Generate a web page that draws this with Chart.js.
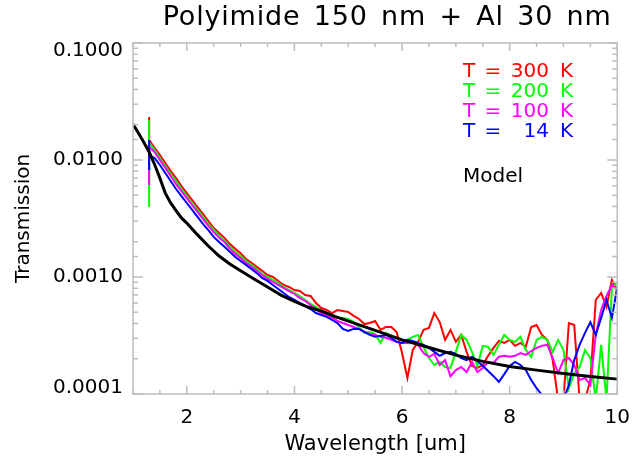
<!DOCTYPE html>
<html>
<head>
<meta charset="utf-8">
<script src="https://cdn.jsdelivr.net/npm/chart.js@4.4.1/dist/chart.umd.min.js"></script>
<style>
  html, body { margin: 0; padding: 0; background: #fff; }
  #wrap { width: 642px; height: 461px; }
</style>
</head>
<body>
<div id="wrap"><canvas id="chart" width="642" height="461"></canvas></div>
<script>
// wavelength grid of the measured spectra [um]; the first three points sit on 1.3
const wavelength = [1.3, 1.3, 1.3, 1.4, 1.5, 1.6, 1.7, 1.8, 1.9, 2.0,
  2.1, 2.2, 2.3, 2.4, 2.5, 2.6, 2.7, 2.8, 2.9, 3.0,
  3.1, 3.2, 3.3, 3.4, 3.5, 3.6, 3.7, 3.8, 3.9, 4.0,
  4.1, 4.2, 4.3, 4.4, 4.5, 4.6, 4.7, 4.8, 4.9, 5.0,
  5.1, 5.2, 5.3, 5.4, 5.5, 5.6, 5.7, 5.8, 5.9, 6.0,
  6.1, 6.2, 6.3, 6.4, 6.5, 6.6, 6.7, 6.8, 6.9, 7.0,
  7.1, 7.2, 7.3, 7.4, 7.5, 7.6, 7.7, 7.8, 7.9, 8.0,
  8.1, 8.2, 8.3, 8.4, 8.5, 8.6, 8.7, 8.8, 8.9, 9.0,
  9.1, 9.2, 9.3, 9.4, 9.5, 9.6, 9.7, 9.8, 9.9, 10.0];

const t300 = [0.0233, 0.0127, 0.0148, 0.0127, 0.0110, 0.00943, 0.00805, 0.00701, 0.00599, 0.00522,
  0.00455, 0.00396, 0.00346, 0.00301, 0.00262, 0.00238, 0.00216, 0.00191, 0.00174, 0.00160,
  0.00142, 0.00132, 0.00122, 0.00113, 0.00104, 0.00100, 0.000925, 0.000855, 0.000822, 0.000774,
  0.000759, 0.000702, 0.000688, 0.000600, 0.000543, 0.000522, 0.000492, 0.000522, 0.000512, 0.000502,
  0.000465, 0.000438, 0.000396, 0.000404, 0.000421, 0.000353, 0.000374, 0.000374, 0.000339, 0.000224,
  0.000137, 0.000238, 0.000279, 0.000353, 0.000367, 0.000492, 0.000412, 0.000290, 0.000353, 0.000279,
  0.000320, 0.000229, 0.000174, 0.000167, 0.000177, 0.000212, 0.000248, 0.000284, 0.000273, 0.000290,
  0.000258, 0.000273, 0.000253, 0.000374, 0.000389, 0.000320, 0.000290, 0.000195, 0.000089, 0.000089,
  0.000404, 0.000389, 0.000089, 0.000089, 0.000132, 0.000636, 0.000730, 0.000554, 0.000943, 0.000774];

const t200 = [0.0220, 0.00396, 0.0140, 0.0122, 0.0104, 0.00888, 0.00759, 0.00661, 0.00565, 0.00492,
  0.00429, 0.00374, 0.00326, 0.00284, 0.00252, 0.00225, 0.00203, 0.00181, 0.00164, 0.00151,
  0.00137, 0.00127, 0.00117, 0.00106, 0.00100, 0.000943, 0.000889, 0.000822, 0.000774, 0.000730,
  0.000688, 0.000636, 0.000588, 0.000554, 0.000512, 0.000483, 0.000456, 0.000447, 0.000447, 0.000438,
  0.000412, 0.000374, 0.000333, 0.000339, 0.000326, 0.000273, 0.000333, 0.000314, 0.000302, 0.000290,
  0.000290, 0.000308, 0.000320, 0.000253, 0.000203, 0.000177, 0.000188, 0.000170, 0.000167, 0.000229,
  0.000320, 0.000290, 0.000229, 0.000174, 0.000258, 0.000253, 0.000216, 0.000263, 0.000320, 0.000290,
  0.000279, 0.000308, 0.000238, 0.000208, 0.000290, 0.000308, 0.000290, 0.000229, 0.000290, 0.000238,
  0.000112, 0.000151, 0.000170, 0.000238, 0.000203, 0.000089, 0.000263, 0.000089, 0.000805, 0.000889];

const t100 = [0.0134, 0.00611, 0.0129, 0.0117, 0.0100, 0.00854, 0.00729, 0.00623, 0.00543, 0.00473,
  0.00412, 0.00360, 0.00313, 0.00273, 0.00242, 0.00216, 0.00199, 0.00174, 0.00157, 0.00145,
  0.00132, 0.00122, 0.00113, 0.00104, 0.000962, 0.000907, 0.000855, 0.000805, 0.000759, 0.000716,
  0.000661, 0.000624, 0.000576, 0.000532, 0.000492, 0.000465, 0.000447, 0.000421, 0.000404, 0.000389,
  0.000374, 0.000360, 0.000339, 0.000326, 0.000320, 0.000308, 0.000302, 0.000290, 0.000279, 0.000273,
  0.000273, 0.000279, 0.000263, 0.000224, 0.000208, 0.000220, 0.000177, 0.000195, 0.000142, 0.000160,
  0.000170, 0.000154, 0.000188, 0.000154, 0.000167, 0.000188, 0.000184, 0.000208, 0.000212, 0.000208,
  0.000212, 0.000224, 0.000216, 0.000233, 0.000248, 0.000258, 0.000263, 0.000203, 0.000151, 0.000195,
  0.000203, 0.000177, 0.000132, 0.000137, 0.000119, 0.000320, 0.000522, 0.000688, 0.000855, 0.000774];

const t14 = [0.0148, 0.00821, 0.0110, 0.0104, 0.00906, 0.00774, 0.00661, 0.00565, 0.00492, 0.00429,
  0.00374, 0.00326, 0.00284, 0.00252, 0.00220, 0.00199, 0.00181, 0.00164, 0.00148, 0.00137,
  0.00127, 0.00117, 0.00108, 0.000981, 0.000925, 0.000855, 0.000790, 0.000730, 0.000675, 0.000636,
  0.000600, 0.000565, 0.000532, 0.000492, 0.000474, 0.000456, 0.000429, 0.000404, 0.000360, 0.000346,
  0.000360, 0.000360, 0.000339, 0.000320, 0.000308, 0.000314, 0.000320, 0.000302, 0.000279, 0.000273,
  0.000290, 0.000284, 0.000273, 0.000263, 0.000248, 0.000229, 0.000212, 0.000224, 0.000229, 0.000220,
  0.000203, 0.000195, 0.000208, 0.000191, 0.000174, 0.000157, 0.000142, 0.000127, 0.000148, 0.000174,
  0.000188, 0.000177, 0.000160, 0.000132, 0.000112, 0.000098, 0.000089, 0.000089, 0.000089, 0.000089,
  0.000119, 0.000195, 0.000263, 0.000333, 0.000412, 0.000320, 0.000447, 0.000636, 0.000447, 0.000822];

// model curve
const modelWavelength = [1.0, 1.1, 1.2, 1.3, 1.4, 1.5, 1.6, 1.7, 1.8, 1.9, 2.0, 2.2, 2.4, 2.6, 2.8, 3.0,
  3.25, 3.5, 3.75, 4.0, 4.25, 4.5, 4.75, 5.0, 5.5, 6.0, 6.5, 7.0, 7.5, 8.0, 8.5, 9.0, 9.5, 10.0];
const model = [0.0203, 0.0170, 0.0142, 0.0117, 0.0092, 0.0070, 0.0052, 0.0043, 0.0037, 0.0032, 0.00289, 0.00229,
  0.00184, 0.00151, 0.00129, 0.00113, 0.00096, 0.00082, 0.00070, 0.00062, 0.000554, 0.000512, 0.00046, 0.00042,
  0.00035, 0.00029, 0.00025, 0.000215, 0.000190, 0.000172, 0.000160, 0.000150, 0.000141, 0.000134];

const yTickLabels = [0.0001, 0.001, 0.01, 0.1];
const xTickLabels = [2, 4, 6, 8, 10];

const legendRows = [
  { num: '300', color: '#ff0000' },
  { num: '200', color: '#00ff00' },
  { num: '100', color: '#ff00ff' },
  { num: '14', color: '#0000ff' }
];

const FONT = "'DejaVu Sans', sans-serif";
const AXIS_COLOR = '#bdbdbd';

function isDecade(v) {
  const l = Math.log10(v);
  return Math.abs(l - Math.round(l)) < 1e-6;
}

function pts(xs, ys) {
  return xs.map((x, i) => ({ x: x, y: ys[i] }));
}

function line(label, xs, ys, color, width, order) {
  return {
    label: label,
    data: pts(xs, ys),
    showLine: true,
    borderColor: color,
    borderWidth: width,
    pointRadius: 0,
    tension: 0,
    order: order
  };
}

/* frame with inward ticks on all four sides, title and text legend */
const idlFrame = {
  id: 'idlFrame',
  afterDraw(chart) {
    const { ctx, chartArea: a, scales } = chart;
    const xs = scales.x, ys = scales.y;
    ctx.save();
    ctx.strokeStyle = AXIS_COLOR;
    ctx.lineWidth = 1.5;
    ctx.strokeRect(a.left, a.top, a.right - a.left, a.bottom - a.top);

    ctx.beginPath();
    xs.ticks.forEach(t => {
      const px = xs.getPixelForValue(t.value);
      const len = xTickLabels.includes(t.value) ? 8 : 4;
      ctx.moveTo(px, a.bottom); ctx.lineTo(px, a.bottom - len);
      ctx.moveTo(px, a.top); ctx.lineTo(px, a.top + len);
    });
    ys.ticks.forEach(t => {
      const py = ys.getPixelForValue(t.value);
      const len = isDecade(t.value) ? 10 : 5;
      ctx.moveTo(a.left, py); ctx.lineTo(a.left + len, py);
      ctx.moveTo(a.right, py); ctx.lineTo(a.right - len, py);
    });
    ctx.stroke();

    // title
    ctx.fillStyle = '#000';
    ctx.textAlign = 'center';
    ctx.textBaseline = 'middle';
    ctx.font = '27px ' + FONT;
    ctx.letterSpacing = '0.8px';
    ctx.wordSpacing = '4px';
    ctx.fillText('Polyimide 150 nm + Al 30 nm', (a.left + a.right) / 2 + 12, 18);
    ctx.letterSpacing = '0px';
    ctx.wordSpacing = '0px';

    // legend
    ctx.font = '20px ' + FONT;
    legendRows.forEach((r, i) => {
      const y = 72 + i * 20;
      ctx.fillStyle = r.color;
      ctx.textAlign = 'left';
      ctx.fillText('T', 463, y);
      ctx.textAlign = 'center';
      ctx.fillText('=', 493, y);
      ctx.textAlign = 'right';
      ctx.fillText(r.num, 549, y);
      ctx.textAlign = 'left';
      ctx.fillText('K', 560, y);
    });
    ctx.fillStyle = '#000';
    ctx.textAlign = 'left';
    ctx.fillText('Model', 463, 177);
    ctx.restore();
  }
};

// the end labels of the y axis sit inside the frame, as in the original plot
function yLabel(v) {
  if (!yTickLabels.some(d => Math.abs(d - v) / d < 1e-6)) return '';
  const s = v.toFixed(4);
  if (v === yTickLabels[yTickLabels.length - 1]) return ['', s];
  if (v === yTickLabels[0]) return [s, ''];
  return s;
}

function yFont(c) {
  const v = c.tick ? c.tick.value : 0;
  let lh = 1.2;
  if (v === yTickLabels[yTickLabels.length - 1]) lh = '16px';
  else if (v === yTickLabels[0]) lh = '12px';
  return { family: FONT, size: 20, lineHeight: lh };
}

new Chart(document.getElementById('chart'), {
  type: 'scatter',
  data: {
    datasets: [
      line('Model', modelWavelength, model, '#000000', 3, 0),
      line('T = 14 K', wavelength, t14, '#0000ff', 2, 1),
      line('T = 100 K', wavelength, t100, '#ff00ff', 2, 2),
      line('T = 200 K', wavelength, t200, '#00ff00', 2, 3),
      line('T = 300 K', wavelength, t300, '#ff0000', 2, 4)
    ]
  },
  options: {
    responsive: false,
    animation: false,
    layout: { padding: { top: 43, right: 14, left: 0, bottom: 0 } },
    plugins: {
      legend: { display: false },
      tooltip: { enabled: false }
    },
    scales: {
      x: {
        type: 'linear',
        min: 1,
        max: 10,
        grid: { display: false, drawTicks: false },
        border: { display: false },
        ticks: {
          stepSize: 0.5,
          autoSkip: false,
          maxRotation: 0,
          padding: 12,
          color: '#000',
          font: { family: FONT, size: 20 },
          callback: v => (xTickLabels.includes(v) ? String(v) : '')
        },
        title: {
          display: true,
          text: 'Wavelength [um]',
          color: '#000',
          font: { family: FONT, size: 21 },
          padding: { top: 0, bottom: 4 }
        },
        afterFit: s => { s.height = 67; }
      },
      y: {
        type: 'logarithmic',
        min: 0.0001,
        max: 0.1,
        grid: { display: false, drawTicks: false },
        border: { display: false },
        ticks: {
          autoSkip: false,
          padding: 10,
          color: '#000',
          font: yFont,
          callback: yLabel
        },
        title: {
          display: true,
          text: 'Transmission',
          color: '#000',
          font: { family: FONT, size: 20 },
          padding: { top: 12, bottom: 0 }
        },
        afterFit: s => { s.width = 133; }
      }
    }
  },
  plugins: [idlFrame]
});
</script>
</body>
</html>
